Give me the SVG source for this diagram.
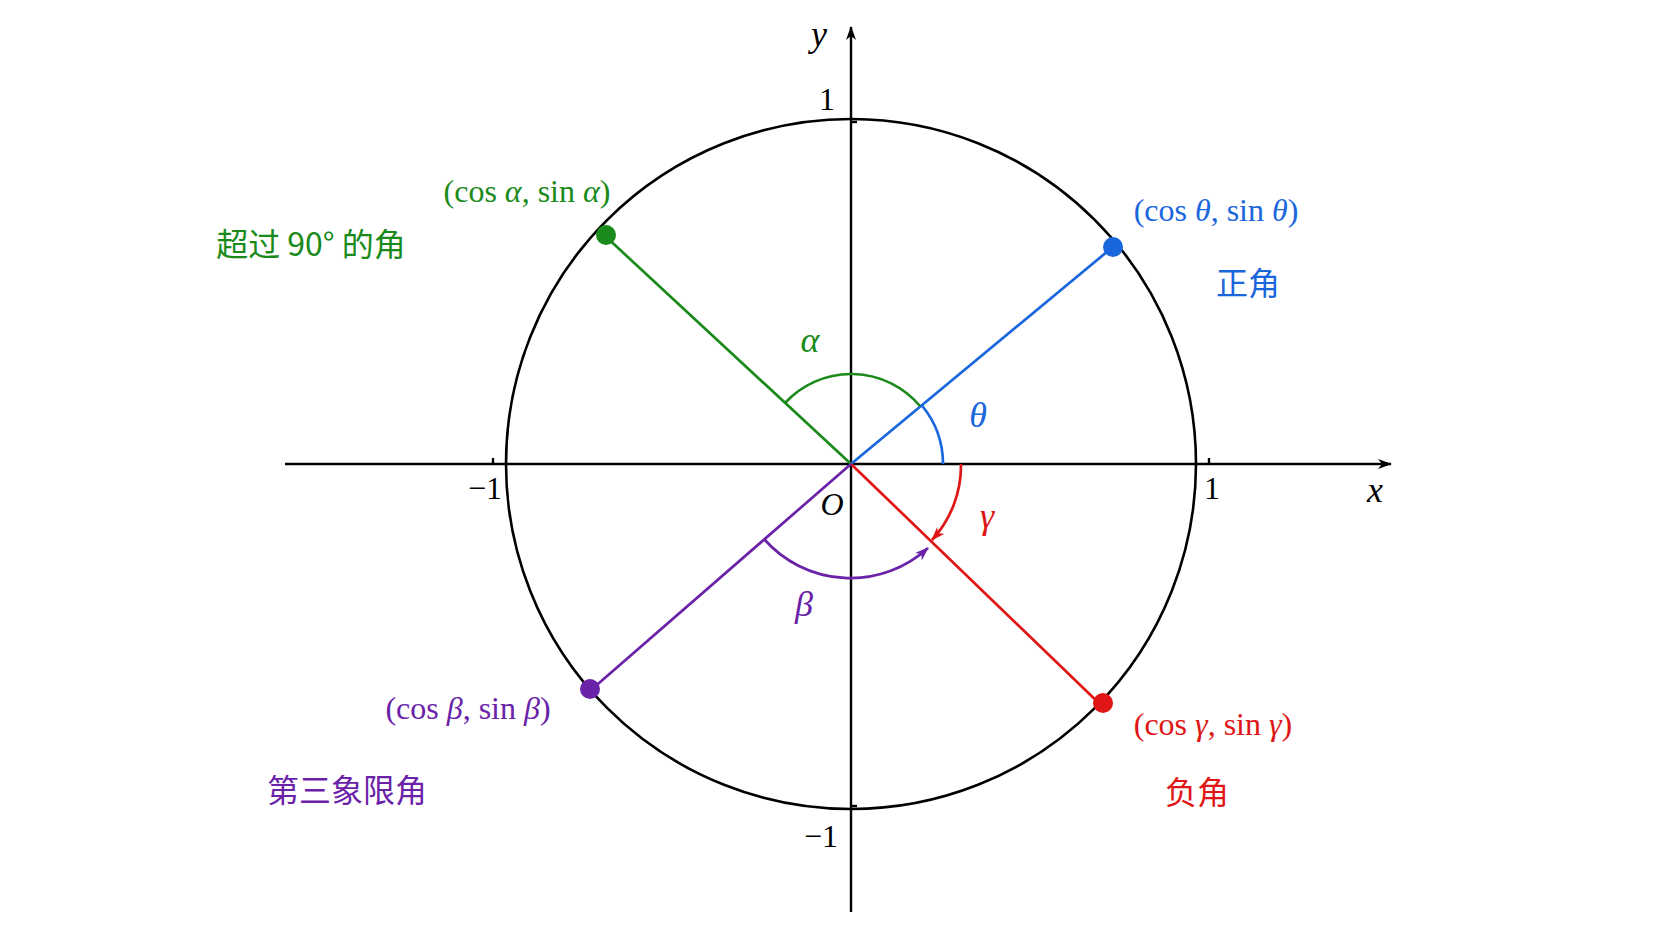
<svg xmlns="http://www.w3.org/2000/svg" width="1672" height="941" viewBox="0 0 1672 941">
<style>
text{font-family:"Liberation Serif","Noto Sans CJK SC",serif;font-size:32px;text-anchor:middle;dominant-baseline:middle}
.i{font-style:italic}
.gr{font-size:36px}
.cjk{font-family:"Noto Sans CJK SC",sans-serif;font-size:32px}
.g{fill:#1a8a1a}.b{fill:#1a66dd}.r{fill:#e01515}.p{fill:#6a22a8}
</style>
<defs>
<marker id="ah" markerWidth="14" markerHeight="10" refX="13" refY="5" orient="auto" markerUnits="userSpaceOnUse"><path d="M0,0 L14,5 L0,10 L4,5Z" fill="#000"/></marker>
<marker id="ar" markerWidth="14" markerHeight="10" refX="13" refY="5" orient="auto" markerUnits="userSpaceOnUse"><path d="M0,0 L14,5 L0,10 L4,5Z" fill="#e01515"/></marker>
<marker id="ap" markerWidth="14" markerHeight="10" refX="13" refY="5" orient="auto" markerUnits="userSpaceOnUse"><path d="M0,0 L14,5 L0,10 L4,5Z" fill="#6a22a8"/></marker>
</defs>
<rect width="1672" height="941" fill="#fff"/>
<g id="axes" stroke="#000" stroke-width="2.4" fill="none">
<line x1="285" y1="464" x2="1391" y2="464" marker-end="url(#ah)"/>
<line x1="851" y1="912" x2="851" y2="27" marker-end="url(#ah)"/>
<circle cx="851" cy="464" r="345" stroke-width="2.6"/>
<line x1="493" y1="458" x2="493" y2="464"/><line x1="1209" y1="458" x2="1209" y2="464"/>
<line x1="851" y1="122" x2="857" y2="122"/><line x1="851" y1="806" x2="857" y2="806"/>
</g>
<g id="connectors" fill="none" stroke-width="2.7">
<line x1="851" y1="464" x2="603" y2="234" stroke="#1a8a1a"/>
<line x1="851" y1="464" x2="1114" y2="246" stroke="#1a66dd"/>
<line x1="851" y1="464" x2="1104" y2="708" stroke="#e01515"/>
<line x1="851" y1="464" x2="591" y2="690" stroke="#6a22a8"/>
<path d="M920,406 A90,90 0 0 0 785,403" stroke="#1a8a1a"/>
<path d="M943,464 A92,92 0 0 0 921.5,405" stroke="#1a66dd"/>
<path d="M961,464 A110,110 0 0 1 932,540" stroke="#e01515" marker-end="url(#ar)"/>
<path d="M764,539 A115,115 0 0 0 928,548" stroke="#6a22a8" marker-end="url(#ap)"/>
</g>
<g id="points">
<circle cx="606" cy="235" r="10" fill="#1a8a1a"/>
<circle cx="1113" cy="247" r="10" fill="#1a66dd"/>
<circle cx="1103" cy="703" r="10" fill="#e01515"/>
<circle cx="590" cy="689" r="10" fill="#6a22a8"/>
</g>
<g id="labels">
<text x="827" y="103">1</text><text x="485" y="492">−1</text><text x="1212" y="492">1</text><text x="821" y="840">−1</text>
<text class="i" x="832" y="508">O</text>
<text class="i gr" x="1375" y="494">x</text><text class="i gr" x="819" y="38">y</text>
<text class="g" x="527" y="195">(cos <tspan class="i">α</tspan>, sin <tspan class="i">α</tspan>)</text>
<text class="g cjk" x="311" y="247">超过 90° 的角</text>
<text class="g i gr" x="810" y="344">α</text>
<text class="b" x="1216" y="214">(cos <tspan class="i">θ</tspan>, sin <tspan class="i">θ</tspan>)</text>
<text class="b cjk" x="1248" y="286">正角</text>
<text class="b i gr" x="978" y="419">θ</text>
<text class="r i gr" x="987" y="520">γ</text>
<text class="p i gr" x="804" y="608">β</text>
<text class="p" x="468" y="712">(cos <tspan class="i">β</tspan>, sin <tspan class="i">β</tspan>)</text>
<text class="p cjk" x="347" y="793">第三象限角</text>
<text class="r" x="1213" y="728">(cos <tspan class="i">γ</tspan>, sin <tspan class="i">γ</tspan>)</text>
<text class="r cjk" x="1197" y="795">负角</text>
</g>
</svg>
